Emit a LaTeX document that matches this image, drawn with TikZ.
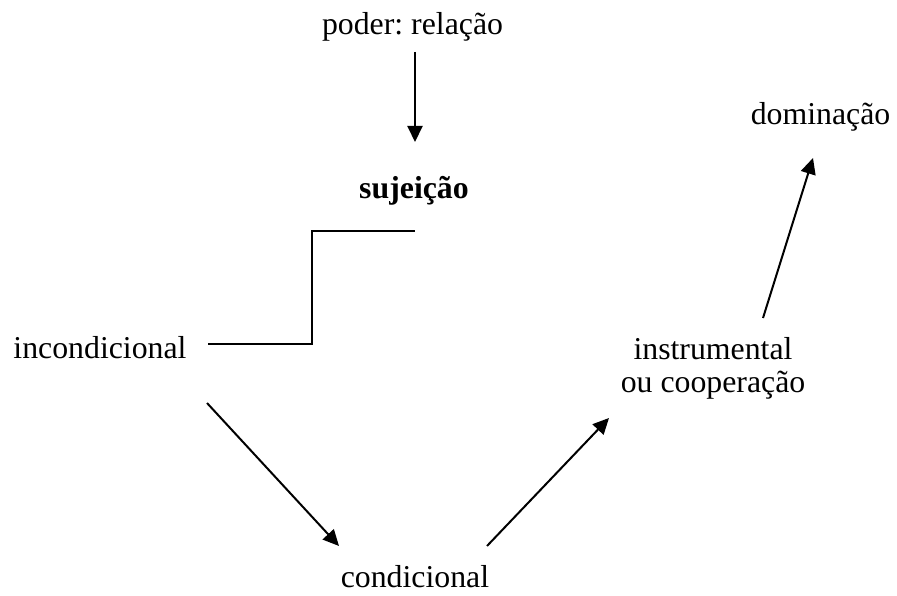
\documentclass[tikz,border=0pt]{standalone}
\usepackage{fontspec}
\setmainfont{Liberation Serif}
\usetikzlibrary{arrows.meta}
\frenchspacing
\tikzset{
  lbl/.style={anchor=base, inner sep=0pt, font=\fontsize{31.8}{33}\selectfont},
  arr/.style={line width=2pt, -{Triangle[length=16pt,width=15pt]}},
  stepline/.style={line width=1.8pt}
}
\begin{document}
\begin{tikzpicture}[x=1pt,y=-1pt]
\useasboundingbox (0,0) rectangle (897,596);
\node[lbl] (poder) at (412.5,35) {\frenchspacing poder: relação};
\node[lbl, font=\fontsize{31.8}{33}\selectfont\bfseries] (sujeicao) at (414,199) {sujeição};
\node[lbl] (incond) at (100,358) {incondicional};
\node[lbl] (cond) at (415,587) {condicional};
\node[lbl, align=center] (instr) at (713,392) {instrumental\\[0pt]ou cooperação};
\node[lbl] (domin) at (820.5,125) {dominação};
% connector end points
\coordinate (a1s) at (415,52);   \coordinate (a1e) at (415,142);
\coordinate (s0) at (208,344);   \coordinate (s1) at (312,231);  \coordinate (s2) at (415,231);
\coordinate (a2s) at (207,403);  \coordinate (a2e) at (339,546);
\coordinate (a3s) at (487,546);  \coordinate (a3e) at (609,418);
\coordinate (a4s) at (763,318);  \coordinate (a4e) at (813,158);
\draw[arr] (a1s) -- (a1e);
\draw[stepline] (s0) -| (s1) -- (s2);
\draw[arr] (a2s) -- (a2e);
\draw[arr] (a3s) -- (a3e);
\draw[arr] (a4s) -- (a4e);
\end{tikzpicture}
\end{document}
